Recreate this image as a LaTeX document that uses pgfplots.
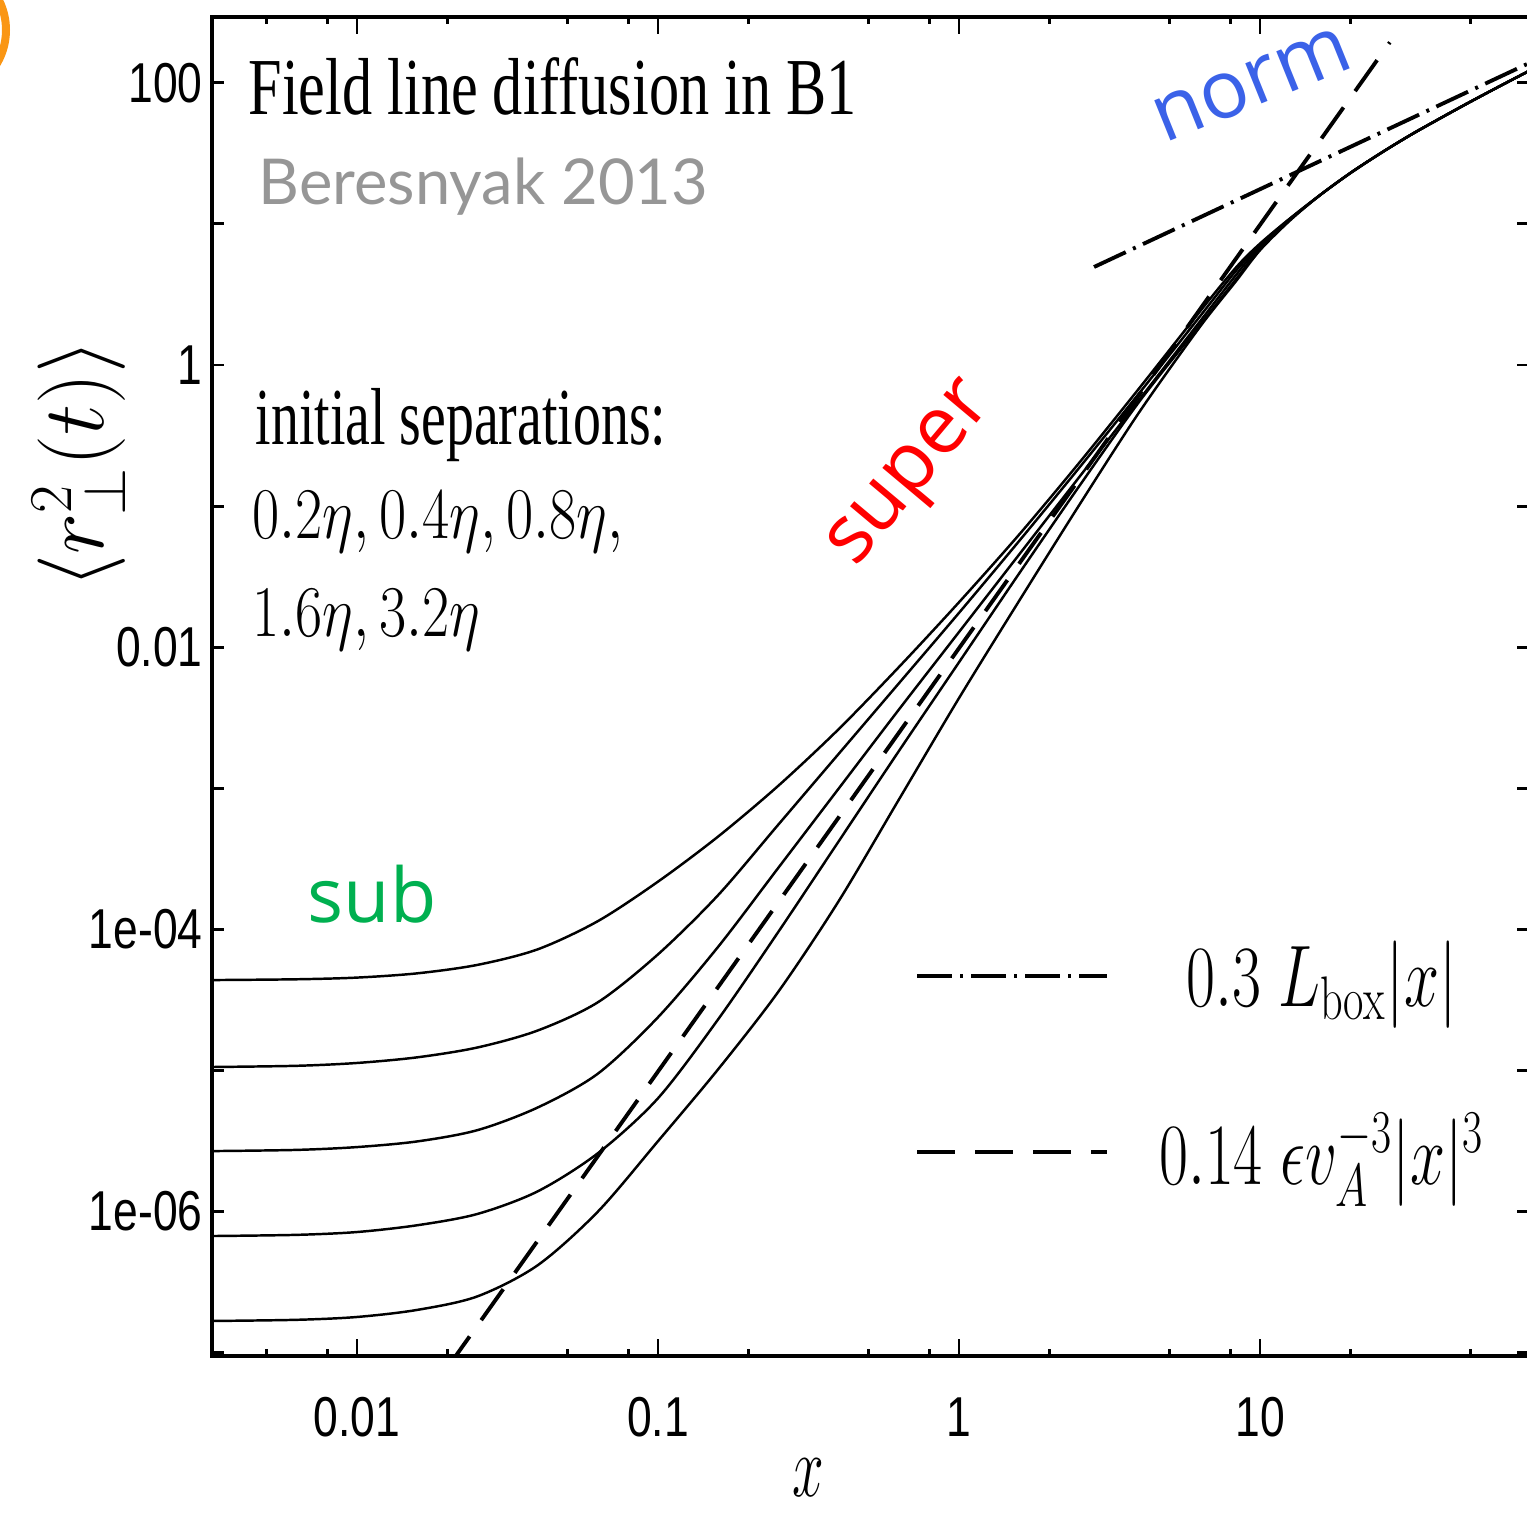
\documentclass[border=0pt]{standalone}
\usepackage{pgfplots}
\pgfplotsset{compat=1.18}
\usepackage{fontspec}
\newfontfamily\timesf{Liberation Serif}
\newfontfamily\arialf{Liberation Sans}
\newfontfamily\opensans{Open Sans}
\newfontfamily\latof{Lato}
\definecolor{subgreen}{RGB}{0,176,80}
\definecolor{normblue}{RGB}{59,98,232}
\definecolor{bgray}{RGB}{150,150,150}
\definecolor{orangec}{RGB}{250,150,20}
\newcommand\tl[1]{\scalebox{0.79}[1]{#1}}
\begin{document}
\begin{tikzpicture}
\useasboundingbox (0,0) rectangle (152.7mm,-151.3mm);
\begin{axis}[
  at={(21.2mm,-135.6mm)}, anchor=south west,
  scale only axis, width=131.7mm, height=133.9mm,
  xmode=log, ymode=log,
  xmin=0.003298, xmax=78.3, ymin=9.475e-8, ymax=292.6,
  axis line style={line width=1.1pt},
  tick style={line width=0.8pt, black},
  major tick length=1.7mm, minor tick length=0.7mm,
  ytick style={/pgfplots/major tick length=1.2mm},
  xtick={0.01,0.1,1,10},
  xticklabels={\tl{0.01},\tl{0.1},\tl{1},\tl{10}},
  minor xtick={0.005,0.008,0.02,0.05,0.08,0.2,0.5,0.8,2,5,8,20,50},
  yminorticks=false,
  ytick={1e-7,1e-6,1e-5,1e-4,1e-3,0.01,0.1,1,10,100},
  yticklabels={{},\tl{1e-06},{},\tl{1e-04},{},\tl{0.01},{},\tl{1},{},\tl{100}},
  ticklabel style={font=\arialf\fontsize{16}{19}\selectfont},
  xticklabel style={yshift=-2.9mm},
  yticklabel style={xshift=0.3mm},
  legend style={at={(0.534,0.31)}, anchor=north west, draw=none, fill=none,
    inner sep=0pt, outer sep=0pt, row sep=10.2mm,
    font=\fontsize{25}{29}\selectfont,
    nodes={inner sep=0pt},
    /tikz/every odd column/.append style={column sep=5mm}},
  legend cell align=center,
  legend image code/.code={\draw[#1] (0mm,0mm) -- (19mm,0mm);},
]
% five initial separations (0.2eta ... 3.2eta)
\addplot[black, line width=0.7pt, smooth, forget plot] coordinates {
(0.003311,4.375e-5) (0.006310,4.432e-5) (0.01,4.556e-5) (0.01585,4.883e-5) (0.02512,5.605e-5) (0.03981,7.221e-5) (0.06310,1.144e-4) (0.1,2.181e-4) (0.1585,4.556e-4) (0.2512,1.044e-3) (0.3981,2.622e-3) (0.6310,7.221e-3) (1,2.083e-2) (1.585,6.290e-2) (2.512,0.2035) (3.981,0.6896) (6.310,2.391) (8.318,4.905) (10,7.254) (12.59,10.96)
(15.85,16.03) (19.95,22.91) (25.12,31.62) (31.62,42.66) (39.81,56.23) (50.12,73.62) (63.10,95.50) (77.62,120.2)};
\addplot[black, line width=0.7pt, smooth, forget plot] coordinates {
(0.003311,1.059e-5) (0.006310,1.080e-5) (0.01,1.131e-5) (0.01585,1.240e-5) (0.02512,1.456e-5) (0.03981,1.920e-5) (0.06310,3.043e-5) (0.1,6.658e-5) (0.1585,1.752e-4) (0.2512,5.539e-4) (0.3981,1.752e-3) (0.6310,5.539e-3) (1,1.752e-2) (1.585,5.666e-2) (2.512,0.1876) (3.981,0.6360) (6.310,2.205) (8.318,4.650) (10,7.102) (12.59,10.89)
(15.85,16.03) (19.95,22.91) (25.12,31.62) (31.62,42.66) (39.81,56.23) (50.12,73.62) (63.10,95.50) (77.62,120.2)};
\addplot[black, line width=0.7pt, smooth, forget plot] coordinates {
(0.003311,2.685e-6) (0.006310,2.738e-6) (0.01,2.867e-6) (0.01585,3.144e-6) (0.02512,3.779e-6) (0.03981,5.464e-6) (0.06310,9.493e-6) (0.1,2.385e-5) (0.1585,7.541e-5) (0.2512,2.738e-4) (0.3981,9.940e-4) (0.6310,3.609e-3) (1,1.281e-2) (1.585,4.544e-2) (2.512,0.1612) (3.981,0.5719) (6.310,2.029) (8.318,4.339) (10,6.956) (12.59,10.81)
(15.85,16.03) (19.95,22.91) (25.12,31.62) (31.62,42.66) (39.81,56.23) (50.12,73.62) (63.10,95.50) (77.62,120.2)};
\addplot[black, line width=0.7pt, smooth, forget plot] coordinates {
(0.003311,6.714e-7) (0.006310,6.845e-7) (0.01,7.167e-7) (0.01585,8.005e-7) (0.02512,9.625e-7) (0.03981,1.391e-6) (0.06310,2.591e-6) (0.1,6.360e-6) (0.1585,2.309e-5) (0.2512,9.625e-5) (0.3981,4.201e-4) (0.6310,1.834e-3) (1,7.823e-3) (1.585,3.337e-2) (2.512,0.1391) (3.981,0.5539) (6.310,1.920) (8.318,4.050) (10,6.720) (12.59,10.72)
(15.85,16.03) (19.95,22.91) (25.12,31.62) (31.62,42.66) (39.81,56.23) (50.12,73.62) (63.10,95.50) (77.62,120.2)};
\addplot[black, line width=0.7pt, smooth, forget plot] coordinates {
(0.003311,1.679e-7) (0.006310,1.711e-7) (0.01,1.792e-7) (0.01585,2.011e-7) (0.02512,2.508e-7) (0.03981,4.163e-7) (0.06310,9.986e-7) (0.1,3.158e-6) (0.1585,1.022e-5) (0.2512,3.626e-5) (0.3981,1.583e-4) (0.6310,8.307e-4) (1,4.359e-3) (1.585,2.135e-2) (2.512,0.1022) (3.981,0.4671) (6.310,1.859) (8.318,3.922) (10,6.507) (12.59,10.59)
(15.85,16.03) (19.95,22.91) (25.12,31.62) (31.62,42.66) (39.81,56.23) (50.12,73.62) (63.10,95.50) (77.62,120.2)};
% reference slopes
\addplot[black, line width=1.1pt, dash pattern=on 3.5mm off 0.8mm on 0.3mm off 0.8mm] coordinates {(2.81,4.95) (78,137.3)};
\addlegendentry{\scalebox{0.72}[1]{$0.3\;L_{\mathrm{box}}|x|$}}
\addplot[black, line width=1.1pt, dash pattern=on 3.8mm off 2.0mm] coordinates {(0.02,7.87e-8) (27.0,193.7)};
\addlegendentry{\scalebox{0.72}[1]{$0.14\;\epsilon v_A^{-3}|x|^3$}}
\end{axis}
\begin{scope}[x=0.1mm,y=-0.1mm]
\draw[orangec, line width=0.8mm] (-60,30) circle (66);
\node[anchor=base west, inner sep=0] at (248,115) {\timesf\fontsize{23}{27}\selectfont\scalebox{0.745}[1]{Field line diffusion in B1}};
\node[anchor=base west, inner sep=0, text=bgray] at (258,205) {\latof\fontsize{18}{21}\selectfont Beresnyak 2013};
\node[anchor=base west, inner sep=0] at (255,444) {\timesf\fontsize{23}{27}\selectfont\scalebox{0.69}[1]{initial separations:}};
\node[anchor=base west, inner sep=0] at (252,538) {\fontsize{21}{25}\selectfont\scalebox{0.81}[1]{$0.2\eta, 0.4\eta, 0.8\eta,$}};
\node[anchor=base west, inner sep=0] at (252,636) {\fontsize{21}{25}\selectfont\scalebox{0.81}[1]{$1.6\eta, 3.2\eta$}};
\node[anchor=base west, inner sep=0, text=subgreen] at (307,922) {\opensans\fontsize{21.5}{26}\selectfont sub};
\node[rotate=50, inner sep=0, text=red] at (915,478) {\opensans\fontsize{23}{27}\selectfont super};
\node[rotate=22, inner sep=0, text=normblue] at (1252,85) {\opensans\fontsize{23}{27}\selectfont norm};
\node[rotate=90, inner sep=0] at (79,464) {\fontsize{23}{27}\selectfont$\langle r_{\perp}^{2}(t)\rangle$};
\node[inner sep=0] at (808,1478) {\fontsize{34}{40}\selectfont\scalebox{0.65}[1]{$x$}};
\end{scope}
\end{tikzpicture}
\end{document}
